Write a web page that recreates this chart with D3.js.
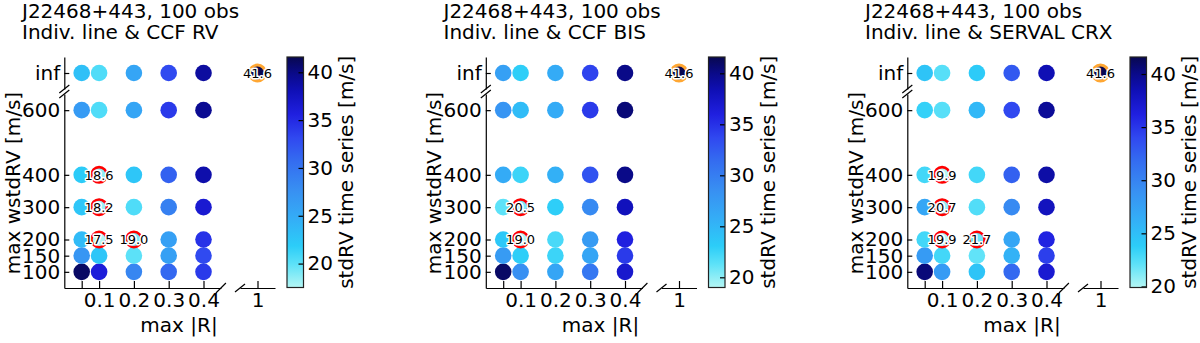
<!DOCTYPE html>
<html>
<head>
<meta charset="utf-8">
<script src="https://cdn.jsdelivr.net/npm/d3@7"></script>
<style>
  html, body { margin: 0; padding: 0; background: #fff; }
  svg { display: block; font-family: "DejaVu Sans", sans-serif; }
</style>
</head>
<body>
<svg id="chart" width="1200" height="343"></svg>
<script>
// ---------------- DATA ----------------
const xValues = [0.05, 0.1, 0.2, 0.3, 0.4];
const xTickValues = [0.05, 0.1, 0.2, 0.3, 0.4];
const xTickLabels = ["", "0.1", "0.2", "0.3", "0.4"];
const yValues = [100, 150, 200, 300, 400, 600];
const yTickLabels = ["100", "150", "200", "300", "400", "600"];
const yInfLabel = "inf";
const xExtraValue = 1;
const xExtraLabel = "1";
const cbTicks = [20, 25, 30, 35, 40];

const titleLine1 = "J22468+443, 100 obs";
const panelTitles = ["Indiv. line & CCF RV", "Indiv. line & CCF BIS", "Indiv. line & SERVAL CRX"];

// rows: 100, 150, 200, 300, 400, 600, inf ; columns: xValues
const ccfRV = [
  [41.0, 36.0, 28.5, 31.0, 34.0],
  [27.0, 22.5, 20.0, 26.0, 33.0],
  [23.5, 17.5, 19.0, 26.0, 34.5],
  [22.5, 18.2, 20.5, 29.0, 36.5],
  [22.0, 18.6, 22.5, 31.5, 38.5],
  [26.5, 20.5, 25.5, 34.0, 39.5],
  [23.0, 20.5, 25.5, 33.0, 39.0]
];
const ccfBIS = [
  [41.0, 28.5, 26.5, 30.5, 37.0],
  [27.5, 23.0, 22.5, 26.5, 34.5],
  [23.5, 19.0, 22.0, 27.5, 36.0],
  [21.3, 20.5, 23.0, 29.0, 38.0],
  [26.0, 22.5, 25.5, 33.0, 40.0],
  [28.0, 24.5, 26.0, 34.5, 40.5],
  [27.0, 23.0, 26.0, 34.0, 40.0]
];
const servalCRX = [
  [40.5, 28.0, 24.5, 32.0, 37.0],
  [28.0, 23.0, 22.0, 26.0, 34.5],
  [23.0, 19.9, 21.7, 27.0, 36.0],
  [27.0, 20.7, 22.5, 29.5, 38.0],
  [23.0, 19.9, 23.0, 32.5, 39.0],
  [23.5, 22.3, 25.5, 34.0, 39.5],
  [24.5, 22.3, 24.0, 33.0, 38.5]
];
const extraValue = [41.6, 41.6, 41.6];   // point at max|R| = 1, wstdRV = inf
const vMin = [17.5, 19.0, 19.9];
const vMax = [41.6, 41.6, 41.6];
// highlighted cells [rowIndex, colIndex]
const highlightsRV = [[4, 1], [3, 1], [2, 1], [2, 2]];
const highlightsBIS = [[3, 1], [2, 1]];
const highlightsCRX = [[4, 1], [3, 1], [2, 1], [2, 2]];

const panelValues = [ccfRV, ccfBIS, servalCRX];
const panelHighlights = [highlightsRV, highlightsBIS, highlightsCRX];

// colormap stops (position, colour)
const cmapPos = [0.00, 0.10, 0.18, 0.30, 0.42, 0.55, 0.65, 0.75, 0.85, 0.93, 1.00];
const cmapCol = ["#b4f6f4", "#5ee2f8", "#2ccdf8", "#34adf6", "#3890f2", "#346cf0",
                 "#3048f0", "#2020e0", "#1010b8", "#0a0a88", "#080850"];

// ---------------- DRAW ----------------
const svg = d3.select("#chart");
const FS = 20;
const panelStep = 421.5;
const R = 8.3;

function makeCmap(vmin, vmax) {
  return d3.scaleLinear()
    .domain(cmapPos.map(p => vmin + p * (vmax - vmin)))
    .range(cmapCol)
    .interpolate(d3.interpolateRgb)
    .clamp(true);
}

function styleAxis(g) {
  g.selectAll("text").attr("font-size", FS).attr("font-family", "DejaVu Sans, sans-serif").attr("fill", "#000");
  g.selectAll("line").attr("stroke", "#000").attr("stroke-width", 1.2);
  g.selectAll(".domain").attr("stroke", "#000").attr("stroke-width", 1.2);
}

for (let p = 0; p < 3; p++) {
  const sx = 64.3 + p * panelStep;
  const g = svg.append("g");
  const values = panelValues[p];
  const color = makeCmap(vMin[p], vMax[p]);

  const xL = d3.scaleLinear().domain([0, 0.45]).range([sx, sx + 156.6]);
  const xR = d3.scaleLinear().domain([0.95, 1.05]).range([sx + 175.7, sx + 210.7]);
  const yB = d3.scaleLinear().domain([50, 650]).range([288, 94]);
  const yT = d3.scalePoint().domain([yInfLabel]).range([57, 89]).padding(0.5);

  // titles
  g.append("text").attr("x", sx - 42.3).attr("y", 18).attr("font-size", FS).text(titleLine1);
  g.append("text").attr("x", sx - 42.3).attr("y", 39).attr("font-size", FS).text(panelTitles[p]);

  // left-bottom y axis
  const ayB = g.append("g").attr("transform", `translate(${sx},0)`)
    .call(d3.axisLeft(yB).tickValues(yValues).tickFormat((d, i) => yTickLabels[i])
      .tickSizeInner(-5).tickSizeOuter(0).tickPadding(4));
  styleAxis(ayB);
  // left-top y axis (inf)
  const ayT = g.append("g").attr("transform", `translate(${sx},0)`)
    .call(d3.axisLeft(yT).tickSizeInner(-5).tickSizeOuter(0).tickPadding(4));
  styleAxis(ayT);
  // bottom x axis left
  const axL = g.append("g").attr("transform", `translate(0,288)`)
    .call(d3.axisBottom(xL).tickValues(xTickValues).tickFormat((d, i) => xTickLabels[i])
      .tickSizeInner(-7).tickSizeOuter(0).tickPadding(5));
  styleAxis(axL);
  // bottom x axis right
  const axR = g.append("g").attr("transform", `translate(0,288)`)
    .call(d3.axisBottom(xR).tickValues([xExtraValue]).tickFormat(() => xExtraLabel)
      .tickSizeInner(-7).tickSizeOuter(0).tickPadding(5));
  styleAxis(axR);

  // break marks
  const brk = [
    [sx, 89, 5, 4], [sx, 94, 5, 4],
    [sx + 156.6, 288, 5, 5], [sx + 175.7, 288, 5, 4]
  ];
  brk.forEach(([bx, by, dx, dy]) => {
    g.append("line").attr("x1", bx - dx).attr("y1", by + dy).attr("x2", bx + dx).attr("y2", by - dy)
      .attr("stroke", "#000").attr("stroke-width", 1.2);
  });

  // axis labels
  g.append("text").attr("transform", `translate(${sx - 44.8},183) rotate(-90)`)
    .attr("text-anchor", "middle").attr("font-size", FS).text("max wstdRV [m/s]");
  g.append("text").attr("x", sx + 114.7).attr("y", 332)
    .attr("text-anchor", "middle").attr("font-size", FS).text("max |R|");

  // points
  const cells = [];
  values.forEach((row, ri) => row.forEach((v, ci) => cells.push({ ri, ci, v })));
  const yPos = ri => ri < yValues.length ? yB(yValues[ri]) : yT(yInfLabel);
  g.append("g").selectAll("circle").data(cells).join("circle")
    .attr("cx", d => xL(xValues[d.ci])).attr("cy", d => yPos(d.ri))
    .attr("r", R).attr("fill", d => color(d.v));

  // highlighted
  const hl = panelHighlights[p].map(([ri, ci]) => ({ ri, ci, v: values[ri][ci] }));
  g.append("g").selectAll("circle").data(hl).join("circle")
    .attr("cx", d => xL(xValues[d.ci])).attr("cy", d => yPos(d.ri))
    .attr("r", R - 0.6).attr("fill", d => color(d.v))
    .attr("stroke", "#ff0000").attr("stroke-width", 2.6);
  // extra point
  g.append("circle").attr("cx", xR(xExtraValue)).attr("cy", yT(yInfLabel))
    .attr("r", R - 0.4).attr("fill", color(extraValue[p]))
    .attr("stroke", "#ffa733").attr("stroke-width", 3);

  // labels
  const labs = hl.map(d => ({ x: xL(xValues[d.ci]), y: yPos(d.ri), t: d.v.toFixed(1) }));
  labs.push({ x: xR(xExtraValue), y: yT(yInfLabel), t: extraValue[p].toFixed(1) });
  g.append("g").selectAll("text").data(labs).join("text")
    .attr("x", d => d.x).attr("y", d => d.y).attr("dy", "0.36em")
    .attr("text-anchor", "middle").attr("font-size", 13)
    .attr("fill", "#000").attr("stroke", "#fff").attr("stroke-width", 3)
    .attr("paint-order", "stroke").attr("stroke-linejoin", "round")
    .text(d => d.t);

  // colorbar
  const cbX = sx + 222.7, cbW = 16.5, cbTop = 57, cbBot = 287.5;
  const gradId = "grad" + p;
  const grad = svg.append("defs").append("linearGradient").attr("id", gradId)
    .attr("x1", 0).attr("y1", 1).attr("x2", 0).attr("y2", 0);
  cmapPos.forEach((pos, i) => grad.append("stop").attr("offset", pos).attr("stop-color", cmapCol[i]));
  g.append("rect").attr("x", cbX).attr("y", cbTop).attr("width", cbW).attr("height", cbBot - cbTop)
    .attr("fill", `url(#${gradId})`);
  const cb = d3.scaleLinear().domain([vMin[p], vMax[p]]).range([cbBot, cbTop]);
  const acb = g.append("g").attr("transform", `translate(${cbX + cbW},0)`)
    .call(d3.axisRight(cb).tickValues(cbTicks).tickSizeInner(-5).tickSizeOuter(0).tickPadding(4));
  styleAxis(acb);
  acb.select(".domain").remove();
  g.append("rect").attr("x", cbX).attr("y", cbTop).attr("width", cbW).attr("height", cbBot - cbTop)
    .attr("fill", "none").attr("stroke", "#222").attr("stroke-width", 1.2);
  g.append("text").attr("transform", `translate(${sx + 289},${(cbTop + cbBot) / 2}) rotate(-90)`)
    .attr("text-anchor", "middle").attr("font-size", FS).text("stdRV time series [m/s]");
}
</script>
</body>
</html>
